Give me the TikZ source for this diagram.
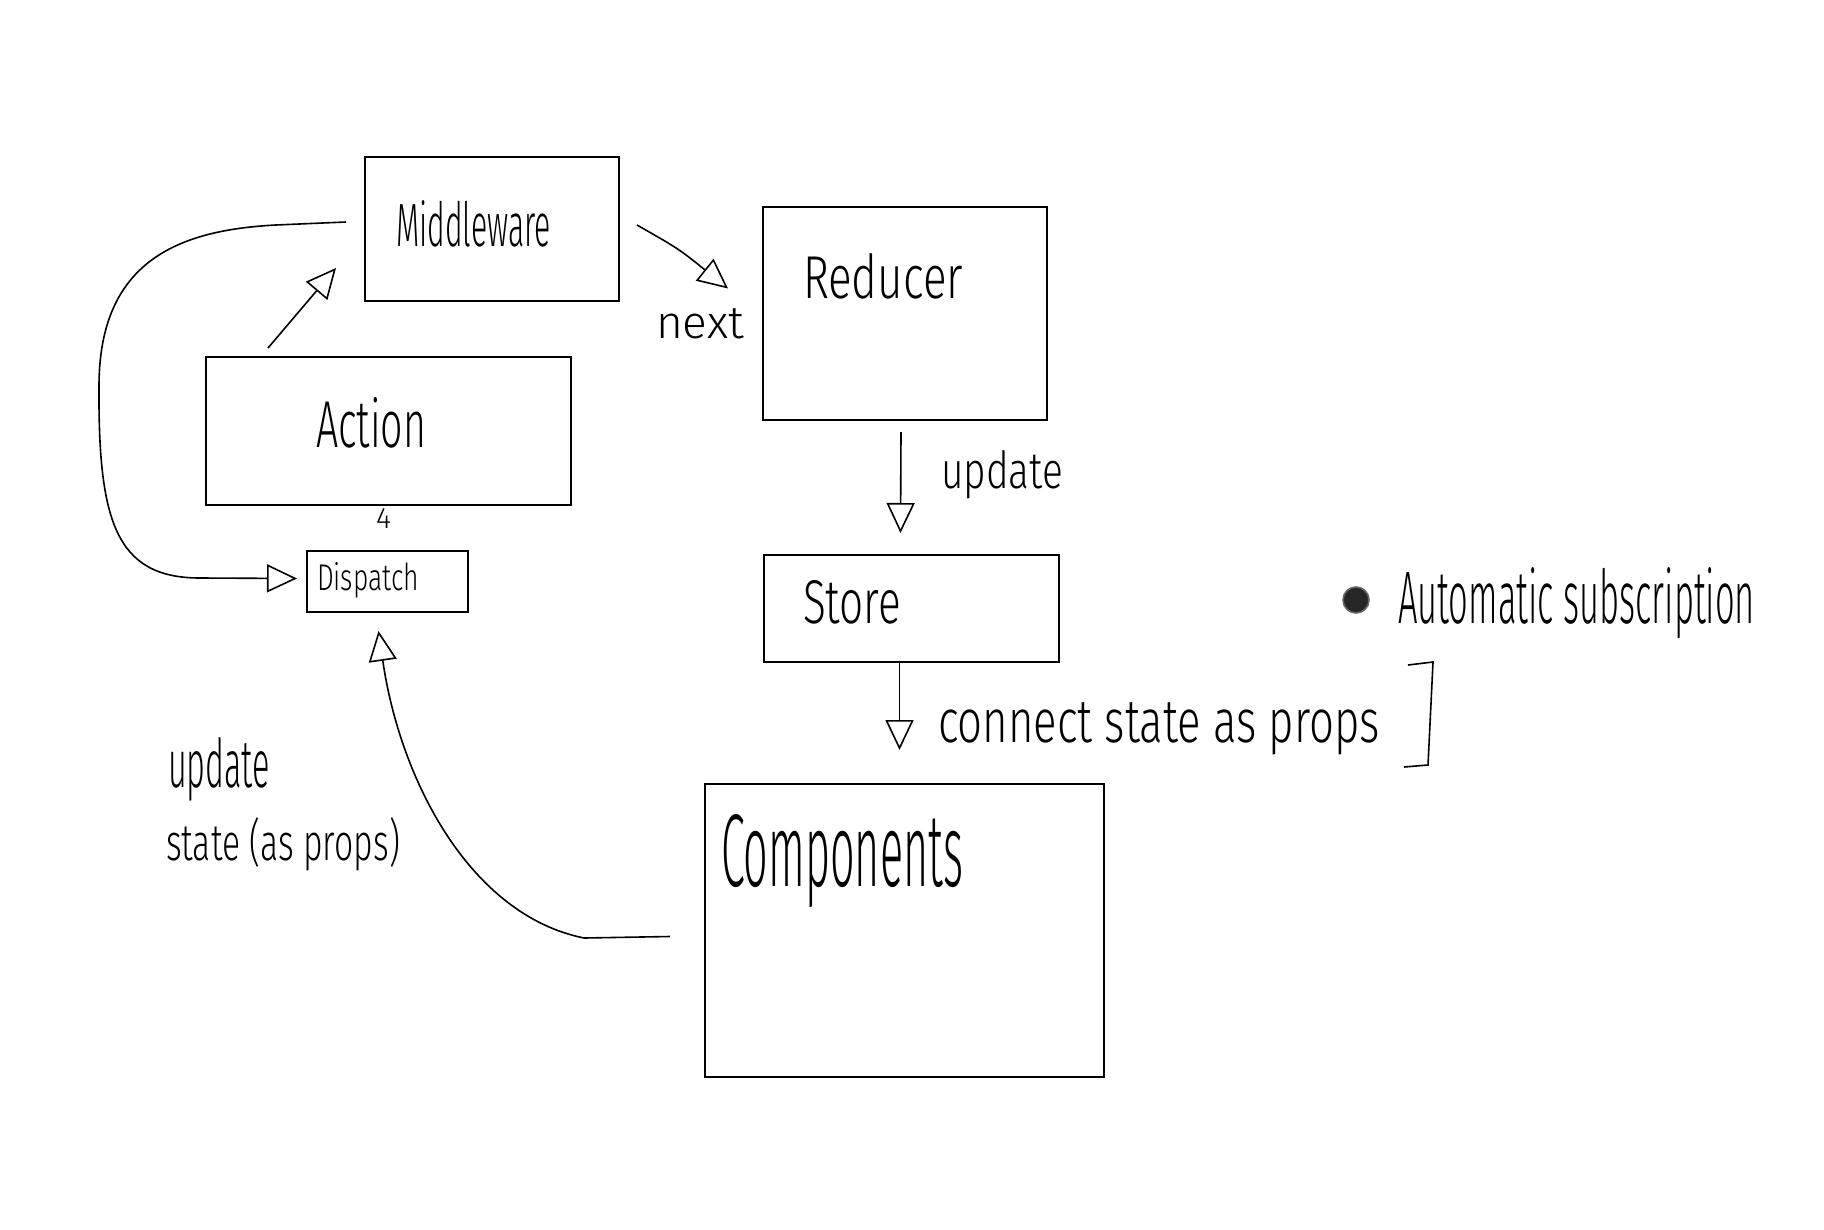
\documentclass[tikz,border=0pt]{standalone}
\usepackage{fontspec}
\setmainfont{Fira Sans Light}
\usetikzlibrary{arrows.meta,calc}
\newcommand\hw[3]{\resizebox{#1pt}{#2pt}{#3}}
\begin{document}
\begin{tikzpicture}[x=0.5pt,y=-0.5pt,
  box/.style={draw, line width=0.8pt, inner sep=0pt, outer sep=0pt},
  txt/.style={inner sep=0pt, outer sep=0pt, anchor=base west},
  arr/.style={line width=0.8pt, -{Triangle[open,length=15pt,width=14pt]}},
  pen/.style={line width=0.8pt}]
\fill[white] (0,0) rectangle (1824,1230);
\useasboundingbox (0,0) rectangle (1824,1230);

% boxes
\node[box, minimum width=127pt,   minimum height=72pt]   (mw)    at (492,229)   {};
\node[box, minimum width=142pt,   minimum height=106.5pt](red)   at (905,313.5) {};
\node[box, minimum width=182.5pt, minimum height=74pt]   (act)   at (388.5,431) {};
\node[box, minimum width=80.5pt,  minimum height=30.5pt] (disp)  at (387.5,581.5) {};
\node[box, minimum width=147.5pt, minimum height=53.5pt] (store) at (911.5,608.5) {};
\node[box, minimum width=199.5pt, minimum height=146.5pt](comp)  at (904.5,930.5) {};

% texts
\node[txt] (mwt)   at (396,246) {\hw{77.5}{23}{Middleware}};
\node[txt] (redt)  at (803,299) {\hw{80}{22.5}{Reducer}};
\node[txt] (actt)  at (316,447) {\hw{55}{25}{Action}};
\node[txt] (four)  at (376,528) {\hw{7.5}{10}{4}};
\node[txt] (dispt) at (317,590) {\hw{51}{14}{Dispatch}};
\node[txt] (stot)  at (803,623) {\hw{49}{21.5}{Store}};
\node[txt] (compt) at (721,886) {\hw{121}{36}{Components}};
\node[txt] (next)  at (656,338) {\hw{44}{15}{next}};
\node[txt] (upd)   at (941,488) {\hw{61}{19}{update}};
\node[txt] (conn)  at (938,742) {\hw{221}{20}{connect state as props}};
\node[txt] (auto)  at (1398,623) {\hw{178.5}{28}{Automatic subscription}};
\node[txt] (upl)   at (168,787) {\hw{51}{25}{update}};
\node[txt] (stl)   at (166,860) {\hw{117}{21.5}{state (as props)}};

% bullet
\node[circle, fill=black!85, draw=black!60, line width=0.8pt, inner sep=0pt, minimum size=13pt] (bul) at (1356,600) {};

% bracket
\draw[pen] (1408,665) -- (1433,662) -- (1428,765) -- (1404,767);

% connectors
\draw[arr] ($(act.north west)+(62,-9)$) -- ($(mw.south west)+(-29,-33)$);
\draw[arr] ($(mw.east)+(18,-4)$) .. controls ($(mw.east)+(60,20)$) .. ($(red.west)+(-35,-25)$);
\draw[arr] ($(red.south)+(-4,12)$) -- ($(store.north)+(-11,-22)$);
\draw[arr] ($(store.south)+(-12,0)$) -- ($(comp.north)+(-5,-34)$);
\draw[arr] ($(mw.west)+(-19,-7)$) -- (276,225)
   .. controls (180,230) and (100,260) .. (99,384)
   .. controls (98,520) and (115,578) .. (200,578)
   -- ($(disp.west)+(-10,-3)$);
\draw[arr] ($(comp.west)+(-35,6)$) -- (584,938)
   .. controls (470,915) and (400,780) .. ($(disp.south)+(-9,19)$);
\end{tikzpicture}
\end{document}
